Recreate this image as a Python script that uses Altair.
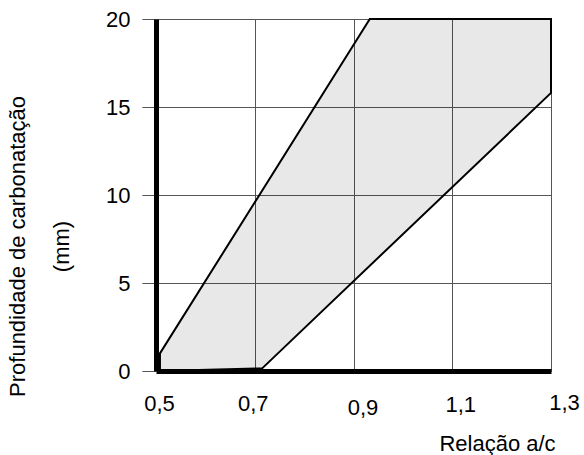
import altair as alt
import pandas as pd

# Polygon outline of the shaded band (Relação a/c vs Profundidade)
poly_x = [0.508, 0.508, 0.933, 1.3, 1.3, 0.715, 0.508]
poly_y = [0.0, 1.0, 20.0, 20.0, 15.8, 0.15, 0.0]

x_ticks = [0.5, 0.7, 0.9, 1.1, 1.3]
y_ticks = [0, 5, 10, 15, 20]

df = pd.DataFrame({"x": poly_x, "y": poly_y, "o": list(range(len(poly_x)))})

FONT = "Liberation Sans"

x_axis = alt.Axis(
    values=x_ticks,
    labelExpr="replace(format(datum.value, '.1f'), '.', ',')",
    title="Relação a/c",
    titleFont=FONT, titleFontSize=22, titleFontWeight="normal", titleColor="black",
    titleX=341, titleY=72, titleAlign="center", titleBaseline="middle",
    labelFont=FONT, labelFontSize=22, labelColor="black",
    labelBaseline="middle", labelFlush=False, labelOverlap=False,
    labelPadding={"condition": [
        {"test": "abs(datum.value - 0.9) < 0.01", "value": 36},
        {"test": "abs(datum.value - 1.1) < 0.01", "value": 33},
        {"test": "abs(datum.value - 1.3) < 0.01", "value": 31}], "value": 32},
    labelOffset={"condition": [
        {"test": "abs(datum.value - 0.5) < 0.01", "value": 3},
        {"test": "abs(datum.value - 0.7) < 0.01", "value": -2},
        {"test": "abs(datum.value - 0.9) < 0.01", "value": 9},
        {"test": "abs(datum.value - 1.1) < 0.01", "value": 8},
        {"test": "abs(datum.value - 1.3) < 0.01", "value": 13}], "value": 0},
    ticks=False,
    grid=True, gridColor="#555555", gridWidth=1, gridOpacity=1,
    domainColor="black", domainWidth=5,
    zindex=0,
)

y_axis = alt.Axis(
    values=y_ticks,
    title=["Profundidade de carbonatação", "(mm)"],
    titleFont=FONT, titleFontSize=22, titleFontWeight="normal", titleColor="black",
    titleAngle=-90, titleX=-139, titleY=227, titleAlign="center", titleBaseline="middle",
    titleLineHeight=44,
    labelFont=FONT, labelFontSize=22, labelColor="black",
    labelFlush=False, labelPadding=12, labelBaseline="middle",
    ticks=True, tickSize=14, tickColor="#555555", tickWidth=1,
    grid=True, gridColor="#555555", gridWidth=1, gridOpacity=1,
    domainColor="black", domainWidth=5,
    zindex=0,
)

chart = alt.Chart(df).mark_line(
    fill="black", fillOpacity=0.09, stroke="black", strokeWidth=2, clip=False
).encode(
    x=alt.X("x:Q", scale=alt.Scale(domain=[0.5, 1.3], nice=False, zero=False), axis=x_axis),
    y=alt.Y("y:Q", scale=alt.Scale(domain=[0, 20], nice=False), axis=y_axis),
    order="o:Q",
).properties(
    width=395, height=352,
    autosize=alt.AutoSizeParams(type="none"),
    padding={"left": 156, "top": 19, "right": 33, "bottom": 84},
).configure_view(stroke=None).configure(background="white")

chart.save("out.html", embed_options={"renderer": "svg", "actions": False})
